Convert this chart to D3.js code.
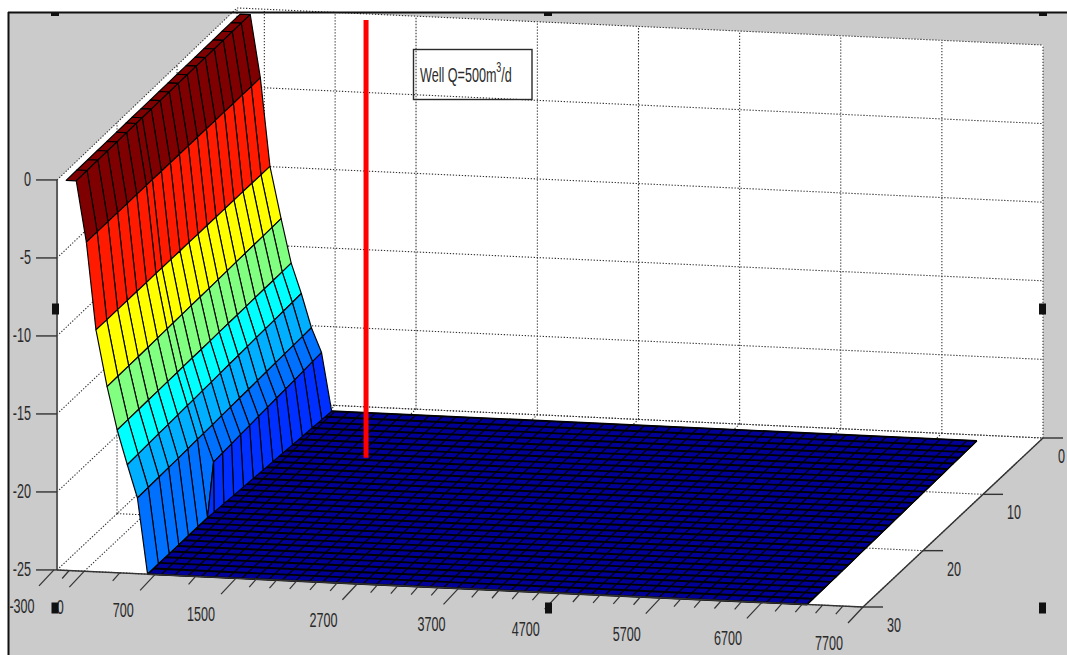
<!DOCTYPE html>
<html><head><meta charset="utf-8">
<script src="https://cdnjs.cloudflare.com/ajax/libs/d3/7.8.5/d3.min.js"></script>
<style>html,body{margin:0;padding:0;background:#fff;overflow:hidden}svg{display:block}text{font-family:"Liberation Sans",Arial,sans-serif;fill:#2a2a2a}</style>
</head><body><svg id="c" width="1067" height="655"></svg>
<script>
// ---- data ----
const xMajorTicks=[-300,0,700,1500,2700,3700,4700,5700,6700,7700];
const xMinorTicks=[-150,350,1100,1700,1900,2100,2300,2500,2900,3100,3300,3500,3900,4100,4300,4500,4900,5100,5300,5500,5900,6100,6300,6500,6900,7100,7300,7500];
const yTicks=[0,10,20,30];
const zTicks=[0,-5,-10,-15,-20,-25];
const noteText="Well Q=500m";
// surface: x of each profile node, y of each row, drawdown per row
const profileX=[-180,-80,20,115,225,325,425,525,625];
const profileRowY=[1,2.5,4,5.5,7,8.5,10,11.5,13,14.5,16,17.5,19,20,21.6,23.2,24.8,26.4,28.2,30];
const profileRows=[
[0,0,-4.00,-9.60,-12.90,-15.70,-17.60,-19.75,-21.30],
[0,0,-4.00,-9.60,-12.91,-15.71,-17.63,-19.77,-21.34],
[0,0,-3.99,-9.59,-12.92,-15.72,-17.65,-19.79,-21.38],
[0,0,-3.99,-9.58,-12.93,-15.72,-17.67,-19.81,-21.43],
[0,0,-3.98,-9.58,-12.94,-15.73,-17.69,-19.83,-21.47],
[0,0,-3.98,-9.57,-12.95,-15.74,-17.71,-19.85,-21.51],
[0,0,-3.97,-9.57,-12.97,-15.75,-17.74,-19.88,-21.55],
[0,0,-3.96,-9.56,-12.98,-15.75,-17.76,-19.90,-21.59],
[0,0,-3.96,-9.56,-12.99,-15.76,-17.78,-19.92,-21.63],
[0,0,-3.95,-9.55,-13.00,-15.77,-17.80,-19.94,-21.67],
[0,0,-3.94,-9.55,-13.01,-15.78,-17.83,-19.96,-21.72],
[0,0,-3.94,-9.54,-13.02,-15.78,-17.85,-19.99,-21.76],
[0,0,-3.93,-9.54,-13.03,-15.79,-17.88,-20.01,-21.80],
[0,0,-3.93,-9.53,-13.04,-15.80,-17.89,-20.02,-25],
[0,0,-3.92,-9.53,-13.05,-15.80,-17.92,-20.05,-25],
[0,0,-3.92,-9.52,-13.07,-15.81,-17.94,-20.07,-25],
[0,0,-3.91,-9.52,-13.08,-15.82,-17.96,-20.09,-25],
[0,0,-3.91,-9.51,-13.08,-15.83,-17.99,-20.11,-25],
[0,0,-3.90,-9.51,-13.09,-15.84,-18.02,-20.13,-25],
[0,0,-3.90,-9.50,-13.10,-15.85,-18.05,-20.15,-25]];
const bandColors=["#7f0000","#7f0000","#ff1a00","#ffff00","#80ff80","#00ffff","#00afff","#0070ff","#0030ff"];
const floorValue=-25;
const floorRowY=d3.range(1,31);
const floorBreakY=[1,20], floorBreakX=[725,625];   // where the walls meet the floor
const floorEndY=[1,30], floorEndX=[7105,7150];     // right edge of the floor mesh
const floorStep=133;
const wellX=1500, wellY=8.33, wellZ=[-25.1,2.8];
const wallX=-270;

// ---- projection ----
const W=1067,H=655;
const sx=d3.scaleLinear().domain([-300,7700]).range([54,863]);
const sBase=d3.scaleLinear().domain([-300,7700]).range([569.8,607]);
const sDepth=d3.scaleLinear().domain([30,0]).range([0,1]);
const P=(x,y,z)=>{const d=sDepth(y);
  return [sx(x)+180*d, sBase(x)-169*d-(z+25)*(15.6+0.12*d)];};
const breakAt=d3.scaleLinear().domain(floorBreakY).range(floorBreakX).clamp(true);
const endAt=d3.scaleLinear().domain(floorEndY).range(floorEndX);

const svg=d3.select("#c");
const poly=(g,pts,fill,stroke,sw)=>g.append("polygon")
  .attr("points",pts.map(p=>p.map(v=>v.toFixed(2)).join(",")).join(" "))
  .attr("fill",fill).attr("stroke",stroke||"none").attr("stroke-width",sw||0).attr("stroke-linejoin","round");
const line=(g,a,b,stroke,sw,dash)=>g.append("line").attr("x1",a[0]).attr("y1",a[1]).attr("x2",b[0]).attr("y2",b[1])
  .attr("stroke",stroke).attr("stroke-width",sw).attr("stroke-dasharray",dash||null);
const label=(g,x,y,str,size,anchor)=>g.append("text").attr("transform",`translate(${x},${y}) scale(0.6,1)`)
  .attr("font-size",size).attr("text-anchor",anchor||"middle").text(str);

// background
svg.append("rect").attr("width",W).attr("height",H).attr("fill","#fff");
svg.append("rect").attr("x",8).attr("y",12).attr("width",W-8).attr("height",H-12).attr("fill","#cbcbcb");

// walls
const gW=svg.append("g");
const zTop=0,zBot=-25,xR=7700;
poly(gW,[P(wallX,30,zTop),P(wallX,30,zBot),P(wallX,0,zBot),P(wallX,0,zTop)],"#fff");
poly(gW,[P(wallX,0,zTop),P(wallX,0,zBot),P(xR,0,zBot),P(xR,0,zTop)],"#fff");
poly(gW,[P(wallX,30,zBot),P(xR,30,zBot),P(xR,0,zBot),P(wallX,0,zBot)],"#fff");

// dotted grid
const gG=svg.append("g");
const D="1.3 1.7",DC="#333";
zTicks.forEach(z=>{
  line(gG,P(wallX,30,z),P(wallX,0,z),DC,1.1,D);
  line(gG,P(wallX,0,z),P(xR,0,z),DC,1.1,D);
});
xMajorTicks.filter(x=>x>=0).forEach(x=>{
  line(gG,P(x,0,zBot),P(x,0,zTop),DC,1.1,D);
  line(gG,P(x,30,zBot),P(x,0,zBot),DC,1.1,D);
});
yTicks.forEach(y=>{
  line(gG,P(wallX,y,zBot),P(wallX,y,zTop),DC,1.1,D);
  line(gG,P(wallX,y,zBot),P(xR,y,zBot),DC,1.1,D);
});

// floor mesh
const gF=svg.append("g");
const clampX=(c,yy)=>Math.min(Math.max(c,breakAt(yy)),endAt(yy));
const floorCols=d3.range(profileX[profileX.length-1],floorEndX[1],floorStep).concat([floorEndX[1]]);
const outline=[...floorRowY.map(y=>P(breakAt(y),y,floorValue)),...floorRowY.slice().reverse().map(y=>P(endAt(y),y,floorValue))];
poly(gF,outline,"#000096","#000",1);
floorCols.forEach(c=>{
  d3.pairs(floorRowY).forEach(([y0,y1])=>{
    if(c<breakAt(y0)&&c<breakAt(y1))return;
    line(gF,P(clampX(c,y0),y0,floorValue),P(clampX(c,y1),y1,floorValue),"#000",1.2);
  });
});
floorRowY.forEach(y=>line(gF,P(breakAt(y),y,floorValue),P(endAt(y),y,floorValue),"#000",1.9));

// well
const gWell=svg.append("g");
line(gWell,P(wellX,wellY,wellZ[0]),P(wellX,wellY,wellZ[1]),"#ff0000",5);

// drawdown wall
const gS=svg.append("g");
d3.pairs(profileRowY).forEach(([y0,y1],i)=>{
  const r0=profileRows[i],r1=profileRows[i+1];
  const node=(r,yy,j)=>j<r.length?P(profileX[j],yy,r[j]):P(breakAt(yy),yy,floorValue);
  bandColors.forEach((c,j)=>{
    poly(gS,[node(r0,y0,j),node(r0,y0,j+1),node(r1,y1,j+1),node(r1,y1,j)],c,"#000",1.15);
  });
});

// axes
const gA=svg.append("g");
const AC="#333";
line(gA,P(wallX,30,zTop),P(wallX,30,zBot),"#5c5c5c",2);
line(gA,P(wallX,30,zBot),P(xR,30,zBot),AC,1.4);
line(gA,P(xR,30,zBot),P(xR,0,zBot),AC,1.4);
zTicks.forEach(z=>{
  const p=P(wallX,30,z);
  line(gA,[p[0]-21,p[1]],p,AC,1.4);
  label(gA,p[0]-26,p[1]+6,z,21,"end");
});
const nudge=new Map([[-300,2],[0,10],[700,2],[3700,7],[1500,-1]]);
xMajorTicks.forEach(x=>{
  const p=P(x,30,zBot);
  line(gA,p,[p[0]-15,p[1]+16],AC,1.2);
  label(gA,p[0]-34+(nudge.get(x)||0),p[1]+43,x,21);
});
xMinorTicks.forEach(x=>{
  const p=P(x,30,zBot);
  line(gA,p,[p[0]-7,p[1]+8],AC,1.2);
});
yTicks.forEach(y=>{
  const p=P(xR,y,zBot);
  line(gA,p,[p[0]+20,p[1]],AC,1.4);
  label(gA,Math.min(p[0]+24,W-9),p[1]+25,y,21,"start");
});

// annotation box
const gN=svg.append("g");
gN.append("rect").attr("x",413.5).attr("y",49.5).attr("width",118.5).attr("height",50)
  .attr("fill","none").attr("stroke","#2a2a2a").attr("stroke-width",1.4);
const t=gN.append("text").attr("transform","translate(420,82) scale(0.6,1)").attr("font-size",21);
t.append("tspan").text(noteText);
t.append("tspan").attr("dy",-10).attr("font-size",15).text("3");
t.append("tspan").attr("dy",10).text("/d");

// selection handles and frame
const gH=svg.append("g");
[[55,14],[548,14],[1043,14]].forEach(([x,y])=>gH.append("rect").attr("x",x-4).attr("y",y-2).attr("width",8).attr("height",4).attr("fill","#111"));
[[55.5,309],[1042.5,309],[55,608],[548.5,608],[1042.5,608]].forEach(([x,y])=>gH.append("rect").attr("x",x-3.5).attr("y",y-5.5).attr("width",7).attr("height",11).attr("fill","#111"));
gH.append("line").attr("x1",8).attr("x2",W).attr("y1",12.5).attr("y2",12.5).attr("stroke","#111").attr("stroke-width",2);
gH.append("line").attr("x1",8.5).attr("x2",8.5).attr("y1",12).attr("y2",H).attr("stroke","#111").attr("stroke-width",2);
</script></body></html>
